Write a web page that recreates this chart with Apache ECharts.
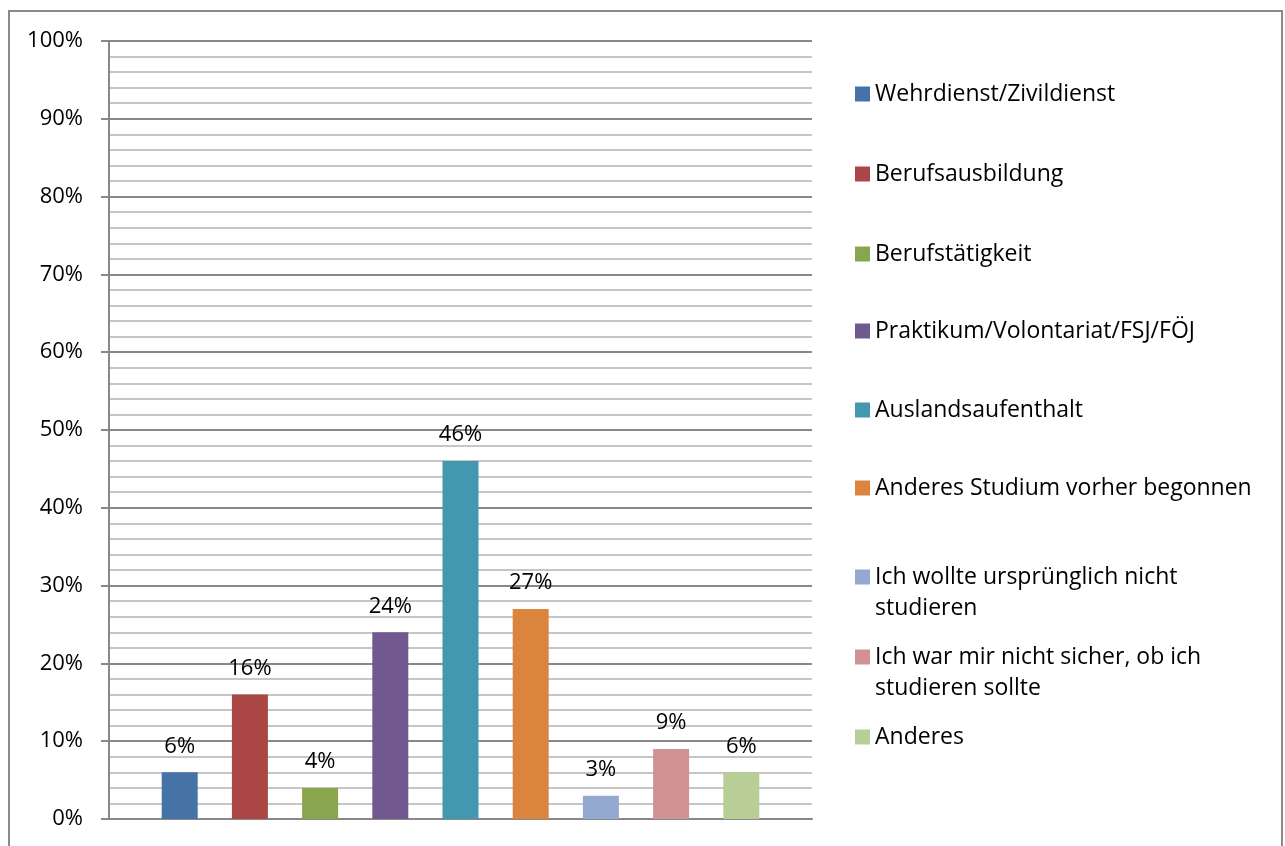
<!DOCTYPE html>
<html>
<head>
<meta charset="utf-8">
<script src="https://cdn.jsdelivr.net/npm/echarts@6/dist/echarts.min.js"></script>
<style>
  html, body { margin: 0; padding: 0; background: #fff; }
  #chart { width: 1285px; height: 846px; }
</style>
</head>
<body>
<div id="chart"></div>
<script>
// Reasons for delaying studies (share of respondents, %)
const categories = [
  'Wehrdienst/Zivildienst',
  'Berufsausbildung',
  'Berufstätigkeit',
  'Praktikum/Volontariat/FSJ/FÖJ',
  'Auslandsaufenthalt',
  'Anderes Studium vorher begonnen',
  'Ich wollte ursprünglich nicht\nstudieren',
  'Ich war mir nicht sicher, ob ich\nstudieren sollte',
  'Anderes'
];
const values = [6, 16, 4, 24, 46, 27, 3, 9, 6];
const colors = ['#4572a7', '#aa4643', '#89a54e', '#71588f', '#4198af', '#db843d', '#93a9cf', '#d19392', '#b9cd96'];
const yTicks = { min: 0, max: 100, interval: 10 };

const FONT = '"Open Sans", "Noto Sans", sans-serif';

const series = categories.map((name, i) => ({
  name: name,
  type: 'bar',
  data: [values[i]],
  barWidth: 36,
  barGap: '95%',
  itemStyle: { color: colors[i] },
  label: {
    show: true,
    position: 'top',
    distance: 15,
    formatter: '{c}%',
    color: '#000',
    fontSize: 22,
    fontFamily: FONT
  }
}));

// one legend block per entry, stacked down the right side;
// wrapped names get a blank leading line so the swatch sits beside the first line
const legendCenters = [94, 174, 254, 331, 410, 488, 577, 657, 737];
const LINE = 31;
const legends = categories.map((name, i) => {
  const twoLine = name.indexOf('\n') >= 0;
  return {
    data: [name],
    left: 855,
    top: twoLine ? legendCenters[i] - 1.5 * LINE : legendCenters[i] - LINE / 2,
    orient: 'vertical',
    padding: 0,
    itemWidth: 15,
    itemHeight: 15,
    icon: 'rect',
    selectedMode: false,
    formatter: n => (twoLine ? '\n' + n : n),
    textStyle: {
      fontSize: 23,
      fontFamily: FONT,
      color: '#000',
      lineHeight: LINE
    }
  };
});

const chart = echarts.init(document.getElementById('chart'));
chart.setOption({
  backgroundColor: '#fff',
  animation: false,
  grid: { left: 109, top: 41, right: 473, bottom: 27 },
  legend: legends,
  xAxis: {
    type: 'category',
    data: [''],
    axisLine: { show: true, lineStyle: { color: '#888', width: 2 } },
    axisTick: { show: false },
    axisLabel: { show: false },
    splitLine: { show: false }
  },
  yAxis: {
    type: 'value',
    min: yTicks.min,
    max: yTicks.max,
    interval: yTicks.interval,
    axisLine: { show: true, lineStyle: { color: '#888', width: 2 } },
    axisTick: { show: true, length: 8, lineStyle: { color: '#888', width: 2 } },
    axisLabel: {
      formatter: '{value}%',
      color: '#000',
      fontSize: 22,
      fontFamily: FONT,
      margin: 26
    },
    splitLine: { show: true, lineStyle: { color: '#888', width: 2 } },
    minorTick: { show: false, splitNumber: 5 },
    minorSplitLine: { show: true, lineStyle: { color: '#c6c6c6', width: 2 } }
  },
  series: series,
  graphic: [{
    type: 'rect',
    shape: { x: 9, y: 11, width: 1273, height: 900 },
    style: { fill: null, stroke: '#8a8a8a', lineWidth: 2 },
    silent: true
  }]
});
</script>
</body>
</html>
